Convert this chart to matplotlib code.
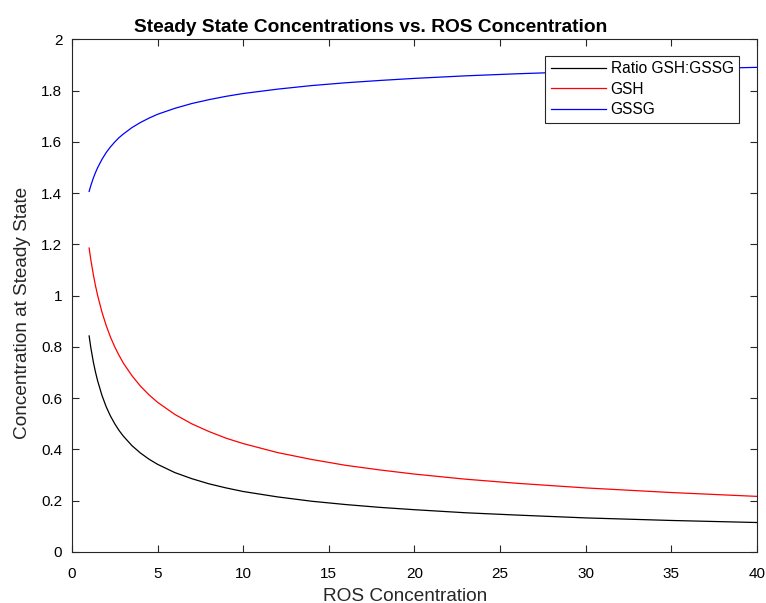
import matplotlib

matplotlib.use("Agg")
import matplotlib.pyplot as plt

plt.rcParams["font.family"] = ["Liberation Sans", "DejaVu Sans"]

# values
ros = [1, 1.1, 1.25, 1.375, 1.5, 1.75, 2, 2.25, 2.5, 2.75, 3, 3.5, 4, 4.5, 5, 6,
       7, 8, 9, 10, 12, 14, 16, 18, 20, 23, 26, 30, 35, 40]
gsh = [1.186, 1.140, 1.081, 1.038, 1.000, 0.936, 0.883, 0.838, 0.800, 0.767,
       0.737, 0.688, 0.647, 0.613, 0.584, 0.537, 0.500, 0.470, 0.444, 0.423,
       0.388, 0.361, 0.338, 0.320, 0.304, 0.284, 0.268, 0.250, 0.232, 0.217]
gssg = [1.407, 1.430, 1.460, 1.481, 1.500, 1.532, 1.559, 1.581, 1.600, 1.617,
        1.631, 1.656, 1.676, 1.693, 1.708, 1.731, 1.750, 1.765, 1.778, 1.789,
        1.806, 1.820, 1.831, 1.840, 1.848, 1.858, 1.866, 1.875, 1.884, 1.891]
ratio = [0.843, 0.797, 0.740, 0.701, 0.667, 0.611, 0.566, 0.530, 0.500, 0.474,
         0.452, 0.415, 0.386, 0.362, 0.342, 0.310, 0.286, 0.266, 0.250, 0.236,
         0.215, 0.198, 0.185, 0.174, 0.165, 0.153, 0.144, 0.133, 0.123, 0.115]

xticks = [0, 5, 10, 15, 20, 25, 30, 35, 40]
yticks = [0, 0.2, 0.4, 0.6, 0.8, 1, 1.2, 1.4, 1.6, 1.8, 2]
ytick_labels = ["0", "0.2", "0.4", "0.6", "0.8", "1", "1.2", "1.4", "1.6", "1.8", "2"]

fig = plt.figure(figsize=(7.66, 6.03), dpi=100)
ax = fig.add_axes([0.094, 0.0846, 0.894, 0.85])

ax.plot(ros, ratio, color="black", lw=0.9, label="Ratio GSH:GSSG")
ax.plot(ros, gsh, color="red", lw=0.9, label="GSH")
ax.plot(ros, gssg, color="blue", lw=0.9, label="GSSG")

ax.set_xlim(0, 40)
ax.set_ylim(0, 2)
ax.set_xticks(xticks)
ax.set_yticks(yticks, ytick_labels)
ax.tick_params(direction="in", top=True, right=True, length=5, width=0.8,
               color="#262626", labelsize=11)
ax.tick_params(axis="x", pad=10.5)
ax.tick_params(axis="y", pad=7)
for s in ax.spines.values():
    s.set_color("#262626")
    s.set_linewidth(0.8)

ax.set_xlabel("ROS Concentration", fontsize=13.7, color="#262626", labelpad=5, x=0.487)
ax.set_ylabel("Concentration at Steady State", fontsize=13.7, color="#262626",
              labelpad=7, y=0.466)
ax.set_title("Steady State Concentrations vs. ROS Concentration",
             fontsize=13.8, fontweight="bold", x=0.436, pad=5)

leg = ax.legend(loc="upper right", bbox_to_anchor=(0.974, 0.968), borderaxespad=0,
                fontsize=11.2, fancybox=False, framealpha=1, edgecolor="#262626",
                handlelength=3.55, handletextpad=0.3, labelspacing=0.35,
                borderpad=0.35)
leg.get_frame().set_linewidth(0.8)

fig.savefig("out.png", dpi=100)
